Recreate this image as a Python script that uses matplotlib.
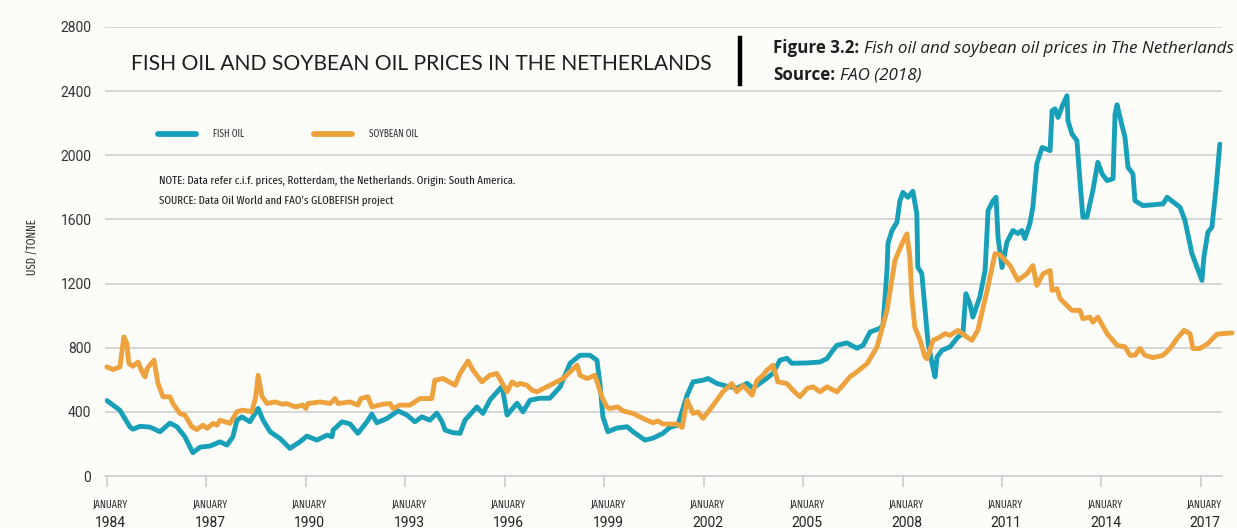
import os
import matplotlib
matplotlib.use("Agg")
import matplotlib.pyplot as plt
from matplotlib import font_manager
from matplotlib.font_manager import FontProperties
from matplotlib.lines import Line2D
import matplotlib.transforms as mtransforms

# fish oil, USD per tonne
fish_years = [1984.00, 1984.39, 1984.69, 1984.78, 1985.00, 1985.30, 1985.60, 1985.90,
              1986.11, 1986.35, 1986.59, 1986.81, 1987.11, 1987.41, 1987.62, 1987.80,
              1987.92, 1988.07, 1988.31, 1988.56, 1988.71, 1988.92, 1989.22, 1989.52,
              1989.82, 1990.03, 1990.33, 1990.64, 1990.79, 1990.82, 1991.09, 1991.33,
              1991.57, 1991.84, 1991.99, 1992.14, 1992.45, 1992.78, 1993.05, 1993.29,
              1993.50, 1993.74, 1993.95, 1994.11, 1994.20, 1994.44, 1994.65, 1994.80,
              1995.16, 1995.34, 1995.55, 1995.86, 1995.92, 1996.07, 1996.37, 1996.55,
              1996.76, 1997.06, 1997.36, 1997.67, 1997.97, 1998.27, 1998.57, 1998.78,
              1998.87, 1998.96, 1999.11, 1999.38, 1999.69, 1999.87, 2000.23, 2000.47,
              2000.77, 2000.98, 2001.22, 2001.50, 2001.68, 2001.98, 2002.13, 2002.40,
              2002.70, 2003.00, 2003.31, 2003.49, 2003.91, 2004.09, 2004.30, 2004.51,
              2004.66, 2005.12, 2005.51, 2005.72, 2005.90, 2006.02, 2006.32, 2006.62,
              2006.81, 2007.02, 2007.32, 2007.41, 2007.53, 2007.56, 2007.68, 2007.83,
              2007.92, 2008.01, 2008.16, 2008.31, 2008.43, 2008.46, 2008.58, 2008.68,
              2008.77, 2008.89, 2008.98, 2009.04, 2009.19, 2009.43, 2009.67, 2009.82,
              2009.91, 2010.03, 2010.12, 2010.33, 2010.49, 2010.58, 2010.73, 2010.82,
              2010.88, 2011.00, 2011.15, 2011.33, 2011.48, 2011.60, 2011.69, 2011.84,
              2011.93, 2012.05, 2012.21, 2012.45, 2012.51, 2012.60, 2012.69, 2012.84,
              2012.96, 2012.99, 2013.11, 2013.26, 2013.35, 2013.44, 2013.56, 2013.74,
              2013.89, 2014.02, 2014.17, 2014.35, 2014.41, 2014.47, 2014.56, 2014.71,
              2014.80, 2014.95, 2015.01, 2015.25, 2015.86, 2015.98, 2016.37, 2016.52,
              2016.73, 2016.88, 2017.03, 2017.09, 2017.21, 2017.33, 2017.45, 2017.57]
fish_usd = [470, 410, 307, 292, 310, 305, 276, 330,
            307, 245, 145, 180, 187, 213, 193, 245,
            348, 369, 338, 421, 348, 276, 234, 172,
            213, 249, 224, 255, 245, 286, 338, 325,
            266, 338, 386, 332, 359, 406, 380, 338,
            369, 348, 392, 338, 286, 270, 266, 348,
            431, 390, 473, 546, 556, 380, 454, 400,
            473, 485, 485, 556, 703, 753, 753, 722,
            578, 369, 276, 299, 307, 276, 224, 236,
            266, 303, 317, 504, 587, 597, 608, 577,
            560, 548, 578, 548, 610, 641, 722, 734,
            703, 705, 711, 732, 784, 815, 830, 797,
            815, 898, 921, 940, 1282, 1450, 1531, 1582,
            1717, 1769, 1738, 1775, 1636, 1303, 1263, 1033,
            828, 703, 618, 742, 784, 805, 867, 888,
            1137, 1075, 991, 1116, 1282, 1655, 1717, 1738,
            1489, 1300, 1460, 1531, 1512, 1531, 1481, 1574,
            1676, 1948, 2049, 2029, 2278, 2290, 2236, 2319,
            2371, 2215, 2133, 2091, 1842, 1614, 1614, 1780,
            1956, 1884, 1842, 1854, 2257, 2315, 2236, 2112,
            1925, 1884, 1717, 1686, 1697, 1738, 1676, 1593,
            1386, 1302, 1220, 1365, 1520, 1551, 1780, 2070]

# soybean oil, USD per tonne
soy_years = [1984.00, 1984.18, 1984.39, 1984.51, 1984.60, 1984.66, 1984.78, 1984.94,
             1985.06, 1985.15, 1985.21, 1985.42, 1985.54, 1985.69, 1985.90, 1985.99,
             1986.20, 1986.35, 1986.56, 1986.71, 1986.90, 1987.02, 1987.20, 1987.32,
             1987.41, 1987.71, 1987.92, 1988.10, 1988.37, 1988.49, 1988.56, 1988.68,
             1988.83, 1989.07, 1989.28, 1989.43, 1989.67, 1989.91, 1990.00, 1990.06,
             1990.43, 1990.73, 1990.88, 1990.97, 1991.33, 1991.57, 1991.66, 1991.87,
             1991.99, 1992.33, 1992.54, 1992.63, 1992.84, 1993.14, 1993.44, 1993.80,
             1993.89, 1994.14, 1994.50, 1994.65, 1994.89, 1995.04, 1995.31, 1995.55,
             1995.76, 1996.07, 1996.22, 1996.37, 1996.46, 1996.67, 1996.82, 1996.97,
             1997.36, 1997.76, 1998.18, 1998.27, 1998.48, 1998.72, 1998.93, 1999.08,
             1999.17, 1999.41, 1999.57, 1999.87, 2000.17, 2000.47, 2000.62, 2000.77,
             2001.19, 2001.35, 2001.50, 2001.68, 2001.83, 2001.98, 2002.25, 2002.58,
             2002.85, 2003.00, 2003.19, 2003.46, 2003.61, 2003.79, 2003.91, 2004.09,
             2004.24, 2004.51, 2004.69, 2004.90, 2005.12, 2005.30, 2005.51, 2005.72,
             2006.02, 2006.20, 2006.41, 2006.62, 2006.93, 2007.23, 2007.53, 2007.77,
             2007.98, 2008.13, 2008.22, 2008.28, 2008.37, 2008.53, 2008.68, 2008.74,
             2008.92, 2009.13, 2009.28, 2009.43, 2009.67, 2009.94, 2010.09, 2010.27,
             2010.55, 2010.79, 2010.94, 2011.24, 2011.48, 2011.75, 2011.93, 2012.05,
             2012.24, 2012.45, 2012.51, 2012.66, 2012.75, 2013.11, 2013.35, 2013.44,
             2013.65, 2013.74, 2013.89, 2014.17, 2014.47, 2014.71, 2014.86, 2015.01,
             2015.16, 2015.31, 2015.55, 2015.86, 2016.07, 2016.28, 2016.49, 2016.67,
             2016.76, 2016.97, 2017.21, 2017.48, 2017.66, 2017.94]
soy_usd = [680, 664, 680, 867, 828, 703, 684, 711,
           649, 618, 670, 722, 577, 494, 494, 452,
           390, 380, 307, 290, 317, 297, 328, 317,
           348, 328, 400, 411, 400, 494, 628, 494,
           452, 462, 448, 452, 431, 442, 421, 452,
           462, 452, 483, 452, 462, 442, 483, 494,
           431, 448, 452, 421, 442, 442, 483, 483,
           597, 608, 566, 639, 717, 660, 587, 628,
           639, 525, 587, 566, 577, 566, 535, 525,
           566, 608, 691, 628, 608, 628, 494, 431,
           421, 431, 406, 390, 359, 332, 344, 324,
           324, 303, 473, 390, 400, 359, 431, 525,
           577, 525, 566, 504, 597, 628, 660, 691,
           587, 577, 535, 494, 546, 556, 525, 556,
           525, 566, 618, 649, 701, 805, 1033, 1344,
           1448, 1510, 1365, 1116, 929, 846, 742, 732,
           846, 867, 888, 877, 908, 867, 846, 908,
           1157, 1386, 1380, 1313, 1220, 1261, 1313, 1189,
           1261, 1282, 1157, 1168, 1106, 1033, 1033, 981,
           991, 960, 991, 888, 815, 805, 753, 753,
           795, 753, 738, 753, 795, 857, 908, 888,
           795, 795, 826, 884, 888, 892]

tick_years = [1984, 1987, 1990, 1993, 1996, 1999, 2002, 2005, 2008, 2011, 2014, 2017]
y_ticks = [0, 400, 800, 1200, 1600, 2000, 2400, 2800]

BLUE = "#18a0b8"
ORANGE = "#eda23e"
GRID = "#cdcdcd"
BG = "#fcfcf9"
INK = "#1e1e1e"

W, H = 1237, 528


def fxy(x, y):
    # pixel position (from top-left) -> figure fraction
    return x / W, 1 - y / H


def find_condensed():
    # look for any installed condensed / narrow regular face
    skip = ("bold", "italic", "light", "thin", "black", "medium", "semibold", "oblique", "semicondensed")
    best = None
    for f in font_manager.fontManager.ttflist:
        key = (f.name + " " + os.path.basename(f.fname)).lower()
        if not any(k in key for k in ("condensed", "narrow")):
            continue
        if any(k in key for k in skip):
            continue
        rank = 0 if "extracondensed" in key.replace(" ", "") else 1
        if "mono" in key or "serif" in key and "sans" not in key:
            rank += 5
        if best is None or rank < best[0]:
            best = (rank, f.fname)
    return best[1] if best else None


cond_file = find_condensed()


def narrow_fp(size):
    if cond_file:
        return FontProperties(fname=cond_file, size=size)
    return FontProperties(family="Liberation Sans", size=size)


names = {f.name for f in font_manager.fontManager.ttflist}
plain = "Roboto" if "Roboto" in names else "Liberation Sans"

fig = plt.figure(figsize=(W / 100, H / 100), dpi=100, facecolor=BG)
ax = fig.add_axes([105.3 / W, 52 / H, 1116.5 / W, 449 / H], facecolor=BG)

ax.plot(fish_years, fish_usd, color=BLUE, lw=3.5, solid_joinstyle="round",
        solid_capstyle="round", label="FISH OIL", zorder=3)
ax.plot(soy_years, soy_usd, color=ORANGE, lw=3.5, solid_joinstyle="round",
        solid_capstyle="round", label="SOYBEAN OIL", zorder=4, clip_on=False)

ax.set_xlim(1983.95, 2017.63)
ax.set_ylim(0, 2800)
ax.set_yticks(y_ticks)
ax.set_yticklabels([str(v) for v in y_ticks], family=plain, fontsize=10, color="#333333")
ax.tick_params(axis="y", length=0, pad=10)
ax.yaxis.grid(True, color=GRID, lw=1.1)
ax.set_axisbelow(True)
for s in ["top", "right", "left"]:
    ax.spines[s].set_visible(False)
ax.spines["bottom"].set_color(GRID)
ax.spines["bottom"].set_linewidth(1.1)
ax.set_xticks(tick_years)
ax.set_xticklabels([])
ax.tick_params(axis="x", length=8, width=1.2, color=GRID, direction="out")

r = fig.canvas.get_renderer()


def fit(t, target_px, along="w", cap=None):
    for _ in range(2):
        bb = t.get_window_extent(r)
        cur = bb.width if along == "w" else bb.height
        t.set_fontsize(t.get_fontsize() * target_px / cur)
    if cap is not None and t.get_fontsize() > cap:
        t.set_fontsize(cap)
    return t.get_fontsize()


# x tick labels: small condensed "JANUARY" over the year
trans = mtransforms.blended_transform_factory(ax.transData, fig.transFigure)
jan_size = None
for yr in tick_years:
    j = ax.text(yr + 0.12, 1 - 508 / H, "JANUARY", transform=trans, ha="center",
                va="baseline", fontproperties=narrow_fp(8), color="#333333")
    if jan_size is None:
        jan_size = fit(j, 35, cap=11)
    j.set_fontsize(jan_size)
    ax.text(yr + 0.12, 1 - 527 / H, str(yr), transform=trans, ha="center",
            va="baseline", family=plain, fontsize=10, color="#222222")

# y axis label
yl = fig.text(*fxy(32, 247), "USD /TONNE", rotation=90, ha="center", va="center",
              fontproperties=narrow_fp(7), color="#333333")
fit(yl, 56, along="h", cap=10)

# title and vertical bar
title = fig.text(*fxy(131, 70), "FISH OIL AND SOYBEAN OIL PRICES IN THE NETHERLANDS",
                 family="Lato", fontsize=16, color=INK, ha="left", va="baseline")
fit(title, 587)
fig.add_artist(Line2D([739.5 / W] * 2, [1 - 38 / H, 1 - 84 / H], color="black",
                      lw=3.2, transform=fig.transFigure))

# figure caption: bold lead + italic rest
cap = [("Figure 3.2:", "Fish oil and soybean oil prices in The Netherlands", 53),
       ("Source:", "FAO (2018)", 80)]
size = 11
pieces = []
for bold, ital, yb in cap:
    tb = fig.text(*fxy(773, yb), bold, family="Open Sans", weight="bold",
                  fontsize=size, color=INK, ha="left", va="baseline")
    ti = fig.text(*fxy(800, yb), ital, family="Open Sans", style="italic",
                  fontsize=size, color=INK, ha="left", va="baseline")
    pieces.append((tb, ti, yb))
for _ in range(3):
    for tb, ti, yb in pieces:
        tb.set_fontsize(size)
        ti.set_fontsize(size)
        bb = tb.get_window_extent(r)
        ti.set_position(((bb.x1 + 0.27 * size * 100 / 72) / W, 1 - yb / H))
    tb, ti, _ = pieces[0]
    total = ti.get_window_extent(r).x1 - tb.get_window_extent(r).x0
    size *= 460 / total

# legend
probe = fig.text(0, 0, "FISH OIL", fontproperties=narrow_fp(7.5))
leg_size = fit(probe, 31, cap=10)
w_fish = probe.get_window_extent(r).width
probe.remove()
fs_px = leg_size * 100 / 72
leg = ax.legend(loc="center left", bbox_to_anchor=fxy(158, 134), bbox_transform=fig.transFigure,
                ncol=2, frameon=False, borderpad=0, borderaxespad=0,
                handlelength=38 / fs_px, handletextpad=17 / fs_px,
                columnspacing=(315 - 214 - w_fish) / fs_px,
                prop=narrow_fp(leg_size))
for line in leg.get_lines():
    line.set_linewidth(4.2)
    line.set_solid_capstyle("round")
for t in leg.get_texts():
    t.set_color("#333333")

# notes
n1 = fig.text(*fxy(159, 184), "NOTE: Data refer c.i.f. prices, Rotterdam, the Netherlands. Origin: South America.",
              fontproperties=narrow_fp(8), color=INK, ha="left", va="baseline")
note_size = fit(n1, 356, cap=11)
n2 = fig.text(*fxy(159, 204), "SOURCE: Data Oil World and FAO\u2019s GLOBEFISH project",
              fontproperties=narrow_fp(note_size), color=INK, ha="left", va="baseline")

fig.savefig("out.png", dpi=100, facecolor=BG)
